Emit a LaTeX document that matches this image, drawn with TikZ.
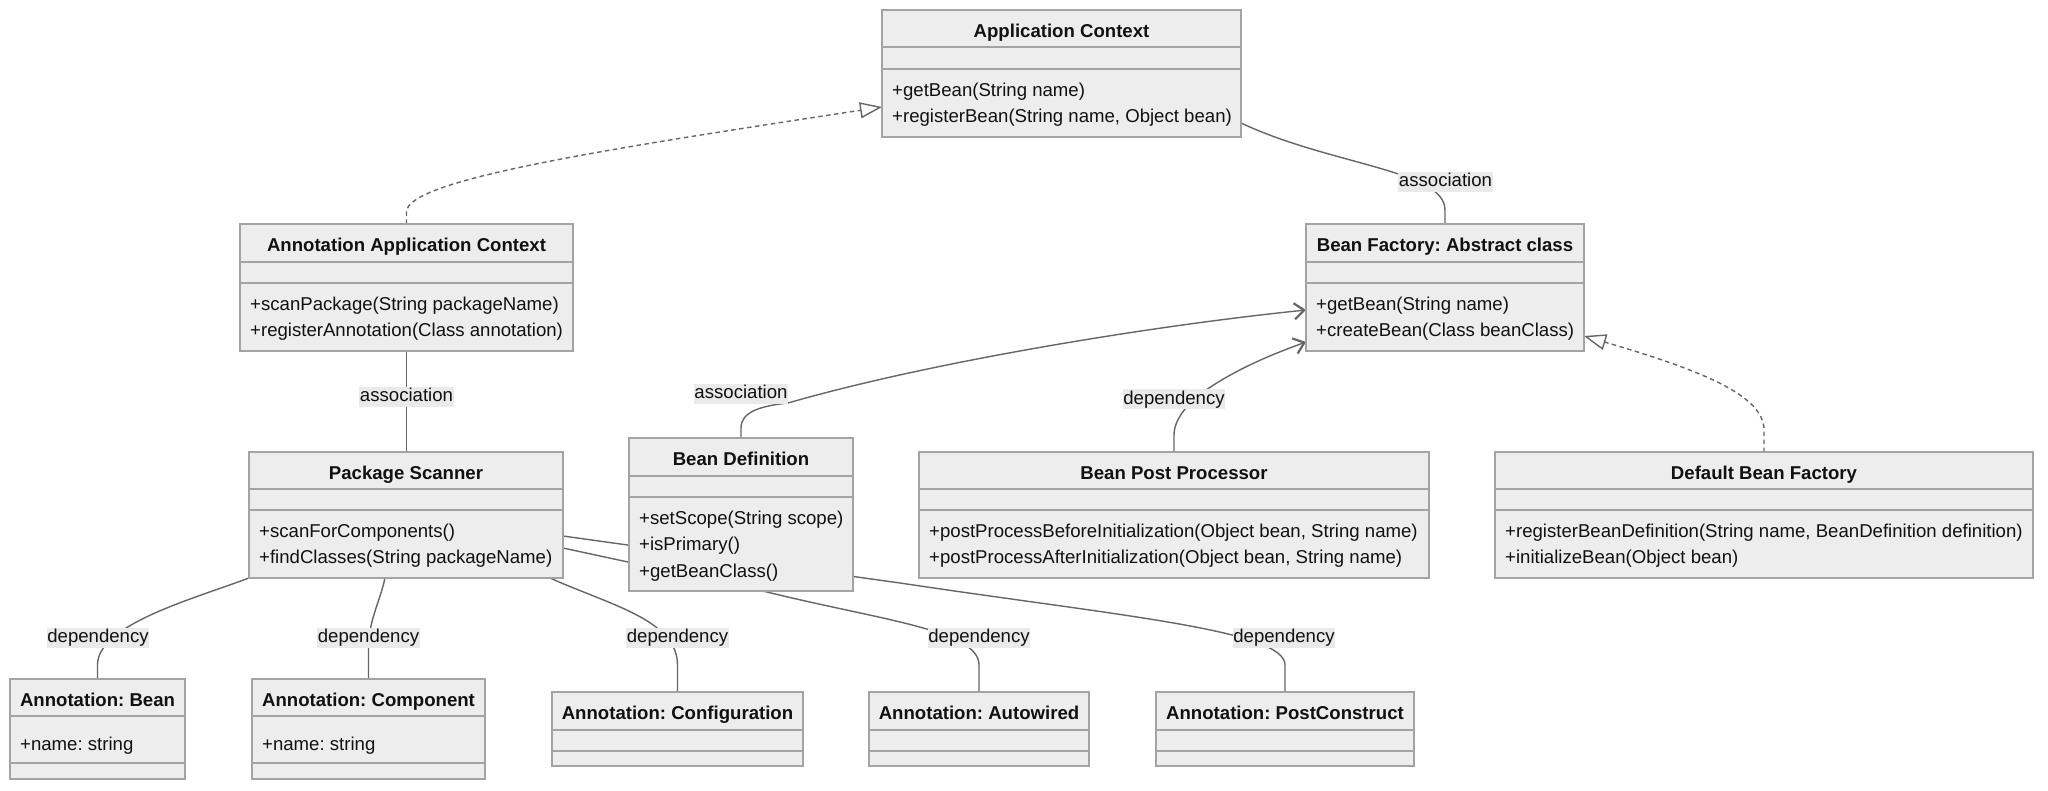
\documentclass[tikz,border=0pt]{standalone}
\usepackage{fontspec}
\setmainfont{Liberation Sans}
\frenchspacing
\usetikzlibrary{arrows.meta,backgrounds}
\definecolor{boxfill}{HTML}{EDEDED}
\definecolor{boxline}{HTML}{A3A3A3}
\definecolor{edgecol}{HTML}{666666}
\definecolor{lblbg}{HTML}{EAEAEA}
\definecolor{txt}{HTML}{111111}
\tikzset{
  classbox/.style={draw=boxline, fill=boxfill, line width=1.4pt, inner sep=0pt, outer sep=0pt, rectangle},
  sepline/.style={draw=boxline, line width=1.4pt},
  ttl/.style={font=\bfseries\fontsize{18.6}{22}\selectfont, text=txt, inner sep=0pt, text height=13.5pt, text depth=4pt},
  mth/.style={font=\fontsize{18.6}{22}\selectfont, text=txt, inner sep=0pt, anchor=west, text height=13.5pt, text depth=4pt, yshift=-1pt},
  lbl/.style={font=\fontsize{18.6}{22}\selectfont, text=txt, fill=lblbg, inner xsep=0.5pt, inner ysep=0pt, text height=14.5pt, text depth=5.5pt, yshift=-1pt},
  conn/.style={draw=edgecol, line width=1.4pt},
  realize/.style={conn, dash pattern=on 4.5pt off 3.5pt, -{Triangle[open, length=22pt, width=16pt]}},
  assoc/.style={conn, -{Straight Barb[length=10pt, width=16pt, line width=2.2pt]}},
}
\newcommand{\umlclass}[8]{%
  \node[classbox, minimum width={#4-#2}, minimum height={#5-#3}] (#1) at ({(#2+#4)/2},{(#3+#5)/2}) {};
  \draw[sepline] (#2,#6) -- (#4,#6) (#2,#7) -- (#4,#7);
  \node[ttl] (#1-title) at ({(#2+#4)/2},{(#3+#6)/2+4}) {#8};
}
\begin{document}
\begin{tikzpicture}[x=1pt,y=-1pt]
\useasboundingbox (0,0) rectangle (2048,791);

% classes
\umlclass{ac}{882}{10}{1241}{137}{47}{69}{Application Context}
\node[mth] (ac-m1) at (892,90.5) {+getBean(String name)};
\node[mth] (ac-m2) at (892,117) {+registerBean(String name, Object bean)};

\umlclass{aac}{240}{224}{573}{351}{262}{283}{Annotation Application Context}
\node[mth] (aac-m1) at (250,304.5) {+scanPackage(String packageName)};
\node[mth] (aac-m2) at (250,331) {+registerAnnotation(Class annotation)};

\umlclass{bf}{1306}{224}{1584}{351}{262}{283}{Bean Factory: Abstract class}
\node[mth] (bf-m1) at (1316,304.5) {+getBean(String name)};
\node[mth] (bf-m2) at (1316,331) {+createBean(Class beanClass)};

\umlclass{ps}{249}{452}{563}{578}{489}{510}{Package Scanner}
\node[mth] (ps-m1) at (259,531.5) {+scanForComponents()};
\node[mth] (ps-m2) at (259,558) {+findClasses(String packageName)};

\umlclass{bd}{629}{438}{853}{591}{476}{497}{Bean Definition}
\node[mth] (bd-m1) at (639,518.5) {+setScope(String scope)};
\node[mth] (bd-m2) at (639,545) {+isPrimary()};
\node[mth] (bd-m3) at (639,571.5) {+getBeanClass()};

\umlclass{bpp}{919}{452}{1429}{578}{489}{510}{Bean Post Processor}
\node[mth] (bpp-m1) at (929,531.5) {+postProcessBeforeInitialization(Object bean, String name)};
\node[mth] (bpp-m2) at (929,558) {+postProcessAfterInitialization(Object bean, String name)};

\umlclass{dbf}{1495}{452}{2033}{578}{489}{510}{Default Bean Factory}
\node[mth] (dbf-m1) at (1505,531.5) {+registerBeanDefinition(String name, BeanDefinition definition)};
\node[mth] (dbf-m2) at (1505,558) {+initializeBean(Object bean)};

\umlclass{anb}{10}{679}{185}{779}{716}{763}{Annotation: Bean}
\node[mth] (anb-a1) at (20,745) {+name: string};

\umlclass{anc}{252}{679}{485}{779}{716}{763}{Annotation: Component}
\node[mth] (anc-a1) at (262,745) {+name: string};

\umlclass{ancf}{552}{692}{803}{766}{730}{751}{Annotation: Configuration}
\umlclass{anaw}{869}{692}{1089}{766}{730}{751}{Annotation: Autowired}
\umlclass{anpc}{1156}{692}{1414}{766}{730}{751}{Annotation: PostConstruct}

% connectors (behind the classes)
\begin{pgfonlayer}{background}
\fill[white] (0,0) rectangle (2048,791);
\draw[realize] (aac.north) -- ++(0,-12) .. controls ++(0,-32) and (600,150) .. ([yshift=-33.5pt]ac.west);
\draw[conn] ([yshift=-49.5pt]ac.east) .. controls (1330,165) and (1445,170) .. (1445,210) -- (bf.north);
\draw[conn] (aac.south) -- (aac.south |- ps.north);
\draw[assoc] (bd.north) -- ++(0,-10) .. controls ++(0,-16) and (760,406) .. (788,403) .. controls (930,362) and (1150,326) .. ([yshift=-22.5pt]bf.west);
\draw[assoc] (bpp.north) -- ++(0,-17) .. controls ++(0,-17) and (1190,400) .. (1212,386) .. controls (1240,368) and (1270,355) .. ([yshift=-54.5pt]bf.west);
\draw[realize] (dbf.north) -- ++(0,-22) .. controls ++(0,-35) and (1700,370) .. ([yshift=-48.5pt]bf.east);
\draw[conn] (ps.south west) .. controls (190,600) and (97.5,625) .. (97.5,665) -- (anb.north);
\draw[conn] ([xshift=-21pt]ps.south) .. controls (379,605) and (368.5,620) .. (368.5,650) -- (anc.north);
\draw[conn] ([xshift=144pt]ps.south) .. controls (610,605) and (677.5,620) .. (677.5,665) -- (ancf.north);
\draw[conn] ([yshift=-33pt]ps.east) -- (767,592) .. controls (880,620) and (979,630) .. (979,665) -- (anaw.north);
\draw[conn] ([yshift=-21pt]ps.east) -- (900,583) .. controls (1120,616) and (1285,630) .. (1285,665) -- (anpc.north);
\end{pgfonlayer}

% connector labels
\node[lbl] (l1) at (1445.5,181.5) {association};
\node[lbl] (l2) at (406.5,396) {association};
\node[lbl] (l3) at (741,393) {association};
\node[lbl] (l4) at (1174,398.5) {dependency};
\node[lbl] (l5) at (98,636.5) {dependency};
\node[lbl] (l6) at (368.5,636.5) {dependency};
\node[lbl] (l7) at (677.5,636.5) {dependency};
\node[lbl] (l8) at (979,636.5) {dependency};
\node[lbl] (l9) at (1284,636.5) {dependency};
\end{tikzpicture}
\end{document}
